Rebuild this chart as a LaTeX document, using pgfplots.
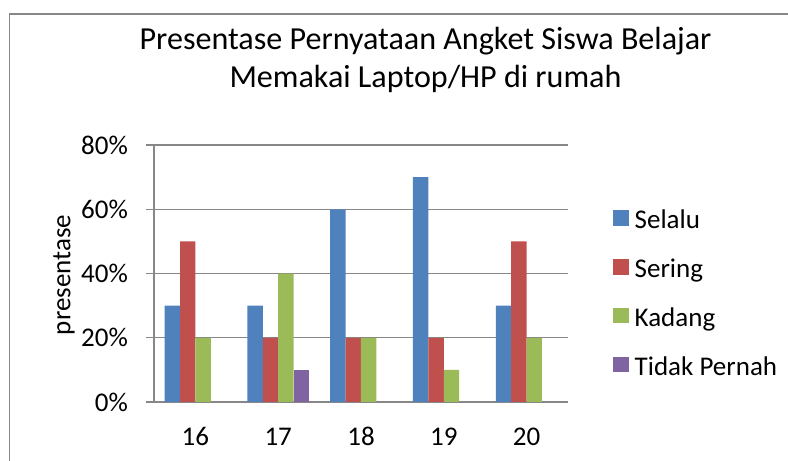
\documentclass[border=0pt]{standalone}
\usepackage{fontspec}
\setmainfont{Carlito}
\usepackage{pgfplots}
\pgfplotsset{compat=1.18}
\definecolor{cBlue}{HTML}{4F81BD}
\definecolor{cRed}{HTML}{C0504D}
\definecolor{cGreen}{HTML}{9BBB59}
\definecolor{cPurple}{HTML}{8064A2}
\definecolor{cGrid}{HTML}{878787}
\begin{document}
\begin{tikzpicture}
\useasboundingbox (0,0) rectangle (788pt,461pt);
\draw[cGrid, line width=1.5pt] (9.5pt,-2pt) -- (9.5pt,447pt) -- (790pt,447pt);
\node[anchor=base, font=\fontsize{32.1}{38}\selectfont, inner sep=0pt] at (425.5pt,411pt) {Presentase Pernyataan Angket Siswa Belajar};
\node[anchor=base, font=\fontsize{32.1}{38}\selectfont, inner sep=0pt] at (425.5pt,373pt) {Memakai Laptop/HP di rumah};
\begin{axis}[
  at={(154pt,59pt)}, anchor=south west,
  scale only axis, width=414pt, height=257pt,
  xmin=-0.5, xmax=4.5, ymin=0, ymax=80,
  ybar=0pt, bar width=15.4pt,
  axis x line=bottom, axis y line=left,
  axis line style={-, cGrid, line width=1.3pt},
  xtick={0,1,2,3,4}, xticklabels={16,17,18,19,20},
  xtick style={draw=none},
  ytick={0,20,40,60,80},
  yticklabel={\pgfmathprintnumber{\tick}\%},
  /pgf/number format/assume math mode=true,
  tick align=outside, major tick length=8pt,
  ytick style={cGrid, line width=1.3pt},
  ymajorgrids, grid style={cGrid, line width=1.3pt},
  ticklabel style={font=\fontsize{27}{32}\selectfont},
  yticklabel style={inner sep=0pt, anchor=east, xshift=-18pt},
  xticklabel style={inner sep=0pt, anchor=base, yshift=-35pt},
  ylabel={presentase},
  ylabel style={font=\fontsize{27}{32}\selectfont, at={(axis description cs:-0.2174,0.494)}, anchor=center, inner sep=0pt},
  legend cell align=left,
  legend style={draw=none, fill=none, font=\fontsize{27}{32}\selectfont,
    at={(axis description cs:1.1087,0.747)}, anchor=north west, inner sep=0pt,
    row sep=24.2pt, nodes={inner sep=0pt, text height=18pt, text depth=6pt}},
  legend image code/.code={\fill[#1] (0pt,-3pt) rectangle (15.6pt,12.6pt); \path (21.5pt,0pt);},
  legend columns=1,
]
\addplot[fill=cBlue, draw=none] coordinates {(0,30) (1,30) (2,60) (3,70) (4,30)};
\addplot[fill=cRed, draw=none] coordinates {(0,50) (1,20) (2,20) (3,20) (4,50)};
\addplot[fill=cGreen, draw=none] coordinates {(0,20) (1,40) (2,20) (3,10) (4,20)};
\addplot[fill=cPurple, draw=none] coordinates {(1,10)};
\legend{Selalu, Sering, Kadang, Tidak Pernah}
\end{axis}
\end{tikzpicture}
\end{document}
